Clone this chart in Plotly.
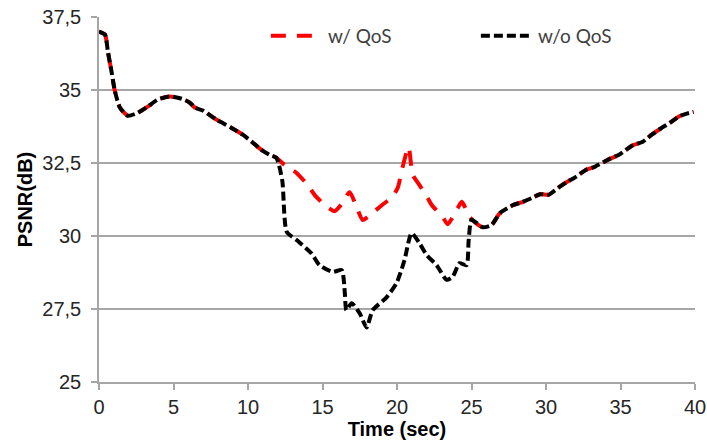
import plotly.graph_objects as go

# Common start (both series identical)
t_start = [0, 0.4, 0.6, 0.85, 1.05, 1.4, 1.93, 2.6, 3.27, 3.94, 4.74, 5.55, 6.09, 6.42,
           6.96, 7.9, 8.9, 9.65, 10.25, 10.9, 11.45, 11.9]
v_start = [37.0, 36.9, 36.3, 35.6, 35.0, 34.4, 34.12, 34.22, 34.43, 34.67, 34.78, 34.7,
           34.57, 34.4, 34.3, 33.98, 33.7, 33.47, 33.23, 32.95, 32.78, 32.68]

# Middle part, w/ QoS
t_mid_qos = [12.46, 13.26, 14.0, 14.48, 15.15, 15.8, 16.3, 16.82, 17.36, 17.7, 18.37, 19.0,
             19.7, 20.05, 20.38, 20.78, 21.05, 21.5, 22.06, 22.33, 23.07, 23.4, 24.07,
             24.35, 24.88, 25.2]
v_mid_qos = [32.43, 32.16, 31.75, 31.4, 31.06, 30.85, 31.1, 31.5, 30.9, 30.55, 30.8, 31.06,
             31.35, 31.65, 32.37, 33.05, 32.1, 31.75, 31.3, 31.06, 30.65, 30.4, 30.95,
             31.17, 30.65, 30.48]

# Middle part, w/o QoS
t_mid_noqos = [12.3, 12.6, 13.27, 14.27, 14.8, 15.68, 16.29, 16.5, 16.6, 16.96, 17.5, 17.96,
               18.37, 19.3, 19.98, 20.5, 20.98, 21.5, 21.99, 22.66, 23.33, 23.73, 24.2,
               24.67, 24.81, 25.01]
v_mid_noqos = [31.9, 30.14, 29.86, 29.4, 29.0, 28.77, 28.83, 28.04, 27.46, 27.7, 27.35, 26.87,
               27.46, 27.9, 28.4, 29.17, 30.1, 29.76, 29.35, 29.0, 28.5, 28.6, 29.07,
               29.0, 29.86, 30.55]

# Common end
t_end = [25.75, 26.35, 26.9, 27.8, 28.44, 29.05, 29.6, 30.2, 30.9, 31.4, 31.93, 32.7, 33.27,
         34.27, 34.9, 35.8, 36.5, 37.1, 37.75, 38.3, 38.95, 39.5, 39.9]
v_end = [30.3, 30.38, 30.78, 31.06, 31.17, 31.3, 31.43, 31.42, 31.68, 31.85, 32.0, 32.27,
         32.37, 32.64, 32.78, 33.1, 33.23, 33.47, 33.7, 33.87, 34.1, 34.2, 34.25]

y_ticks = [25, 27.5, 30, 32.5, 35, 37.5]
y_tick_labels = ["25", "27,5", "30", "32,5", "35", "37,5"]
x_ticks = [0, 5, 10, 15, 20, 25, 30, 35, 40]

fig = go.Figure()
fig.add_trace(go.Scatter(
    x=t_start + t_mid_qos + t_end, y=v_start + v_mid_qos + v_end,
    mode="lines", name="w/ QoS",
    line=dict(color="#ff0000", width=4, dash="15px,11px", shape="spline", smoothing=0.6)))
fig.add_trace(go.Scatter(
    x=t_start + t_mid_noqos + t_end, y=v_start + v_mid_noqos + v_end,
    mode="lines", name="w/o QoS",
    line=dict(color="#000000", width=4, dash="9px,4px", shape="spline", smoothing=0.6)))

fig.update_layout(
    width=707, height=445,
    margin=dict(l=99, r=12, t=17, b=63, autoexpand=False),
    paper_bgcolor="white", plot_bgcolor="white",
    font=dict(family="Liberation Sans, Arial, sans-serif", color="#262626"),
    showlegend=True,
    legend=dict(orientation="h", x=0.28, y=0.948, xanchor="left", yanchor="middle",
                bgcolor="rgba(0,0,0,0)", itemwidth=52,
                entrywidth=143, entrywidthmode="pixels",
                font=dict(family="Lato, Liberation Sans, sans-serif", size=19, color="#404040")),
)
fig.update_xaxes(
    range=[0, 40], tickvals=x_ticks, showgrid=False, zeroline=False, automargin=False,
    showline=True, linecolor="#a6a6a6", linewidth=1.5,
    ticks="outside", ticklen=6, tickcolor="#a6a6a6", tickwidth=1.5,
    tickfont=dict(size=20, color="#262626"),
    title=dict(text="<b>Time (sec)</b>", font=dict(size=20, color="#000000"), standoff=2))
fig.update_yaxes(
    range=[25, 37.5], tickvals=y_ticks, ticktext=y_tick_labels, automargin=False,
    showgrid=True, gridcolor="#a6a6a6", gridwidth=1.5, zeroline=False,
    showline=True, linecolor="#a6a6a6", linewidth=1.5,
    ticks="outside", ticklen=6, tickcolor="#a6a6a6", tickwidth=1.5,
    tickfont=dict(size=20, color="#262626"), ticklabelstandoff=6,
    title=dict(text="<b>PSNR(dB)</b>", font=dict(size=20, color="#000000"), standoff=4))

fig.write_html("out.html")
